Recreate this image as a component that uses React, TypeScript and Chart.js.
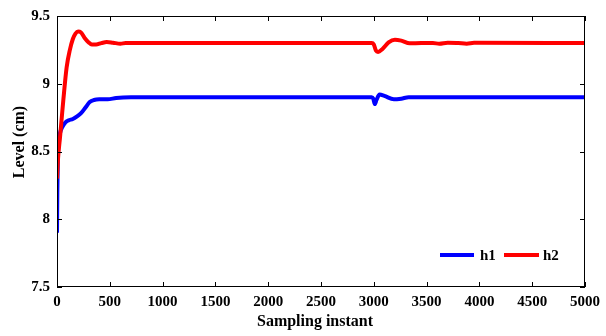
import React, { useEffect, useRef } from "react";
import { Chart, registerables } from "chart.js";

Chart.register(...registerables);

const h1T = [0, 3, 8, 15, 30, 50, 80, 110, 150, 190, 230, 270, 310, 350, 400, 480, 560, 700, 2980, 2995, 3010, 3025, 3055, 3100, 3190, 3260, 3330, 3500, 5000];
const h1V = [7.9, 8.2, 8.45, 8.57, 8.64, 8.68, 8.715, 8.73, 8.74, 8.76, 8.785, 8.825, 8.865, 8.88, 8.885, 8.885, 8.895, 8.9, 8.9, 8.89, 8.85, 8.88, 8.92, 8.91, 8.885, 8.89, 8.9, 8.9, 8.9];

const h2T = [0, 10, 28, 45, 60, 91, 122, 150, 175, 200, 225, 260, 300, 330, 370, 420, 470, 530, 600, 650, 2980, 3000, 3020, 3040, 3080, 3140, 3200, 3260, 3340, 3450, 3560, 3620, 3700, 3800, 3880, 3950, 5000];
const h2V = [8.3, 8.45, 8.6, 8.75, 8.88, 9.12, 9.25, 9.33, 9.37, 9.385, 9.38, 9.34, 9.305, 9.29, 9.29, 9.3, 9.308, 9.303, 9.296, 9.3, 9.3, 9.29, 9.245, 9.235, 9.255, 9.305, 9.325, 9.318, 9.298, 9.3, 9.3, 9.296, 9.303, 9.3, 9.296, 9.302, 9.3];

const seriesLabels = ["h1", "h2"];
const seriesColors = ["#0000FF", "#FF0000"];
const xTitle = "Sampling instant";
const yTitle = "Level (cm)";
const xMin = 0, xMax = 5000, xStep = 500;
const yMin = 7.5, yMax = 9.5, yStep = 0.5;

const FONT = "'Liberation Serif', 'Times New Roman', serif";

const matlabPlugin = {
  id: "matlabBox",
  afterDraw(chart: any) {
    const { ctx, chartArea } = chart;
    const { left, right, top, bottom } = chartArea;
    const xs = chart.scales.x;
    const ys = chart.scales.y;
    ctx.save();
    ctx.strokeStyle = "#000";
    ctx.lineWidth = 1;
    ctx.strokeRect(Math.round(left) + 0.5, Math.round(top) + 0.5, Math.round(right - left) - 1, Math.round(bottom - top) - 1);
    const tl = 5;
    ctx.beginPath();
    xs.ticks.forEach((t: any) => {
      const px = Math.round(xs.getPixelForValue(t.value)) + 0.5;
      ctx.moveTo(px, bottom);
      ctx.lineTo(px, bottom - tl);
      ctx.moveTo(px, top);
      ctx.lineTo(px, top + tl);
    });
    ys.ticks.forEach((t: any) => {
      const py = Math.round(ys.getPixelForValue(t.value)) + 0.5;
      ctx.moveTo(left, py);
      ctx.lineTo(left + tl, py);
      ctx.moveTo(right, py);
      ctx.lineTo(right - tl, py);
    });
    ctx.stroke();

    // titles
    ctx.fillStyle = "#000";
    ctx.font = "bold 16px " + FONT;
    ctx.textAlign = "center";
    ctx.textBaseline = "middle";
    ctx.fillText(xTitle, 315, 322);
    ctx.save();
    ctx.translate(20, 142);
    ctx.rotate(-Math.PI / 2);
    ctx.fillText(yTitle, 0, 0);
    ctx.restore();

    // legend
    const ly = 255;
    const items = [
      { x0: 440, x1: 474, tx: 480 },
      { x0: 504, x1: 539, tx: 543 },
    ];
    ctx.font = "bold 15px " + FONT;
    ctx.textAlign = "left";
    chart.data.datasets.forEach((ds: any, i: number) => {
      const it = items[i];
      ctx.strokeStyle = ds.borderColor;
      ctx.lineWidth = 4;
      ctx.beginPath();
      ctx.moveTo(it.x0, ly);
      ctx.lineTo(it.x1, ly);
      ctx.stroke();
      ctx.fillStyle = "#000";
      ctx.fillText(ds.label, it.tx, ly + 1);
    });
    ctx.restore();
  },
};

export default function App() {
  const ref = useRef<HTMLCanvasElement | null>(null);
  useEffect(() => {
    document.body.style.margin = "0";
    const canvas = ref.current!;
    const mk = (T: number[], V: number[]) => T.map((t, i) => ({ x: t, y: V[i] }));
    const chart = new Chart(canvas, {
      type: "line",
      data: {
        datasets: [
          {
            label: seriesLabels[0],
            data: mk(h1T, h1V),
            borderColor: seriesColors[0],
            backgroundColor: seriesColors[0],
            borderWidth: 4,
            pointRadius: 0,
            cubicInterpolationMode: "monotone",
            borderJoinStyle: "round",
            order: 2,
          },
          {
            label: seriesLabels[1],
            data: mk(h2T, h2V),
            borderColor: seriesColors[1],
            backgroundColor: seriesColors[1],
            borderWidth: 4,
            pointRadius: 0,
            cubicInterpolationMode: "monotone",
            borderJoinStyle: "round",
            order: 1,
          },
        ],
      },
      options: {
        animation: false,
        responsive: false,
        maintainAspectRatio: false,
        layout: { padding: { left: 0, right: 17, top: 16, bottom: 0 } },
        plugins: { legend: { display: false }, tooltip: { enabled: false } },
        scales: {
          x: {
            type: "linear",
            min: xMin,
            max: xMax,
            grid: { display: false, drawTicks: false },
            border: { display: false },
            ticks: {
              stepSize: xStep,
              padding: 6,
              maxRotation: 0,
              autoSkip: false,
              color: "#000",
              font: { family: FONT, size: 15, weight: "bold" },
              callback: (v: any) => String(v),
            },
            afterFit: (s: any) => {
              s.height = 49;
            },
          },
          y: {
            type: "linear",
            min: yMin,
            max: yMax,
            grid: { display: false, drawTicks: false },
            border: { display: false },
            ticks: {
              stepSize: yStep,
              padding: 7,
              autoSkip: false,
              color: "#000",
              font: { family: FONT, size: 15, weight: "bold" },
              callback: (v: any) => String(v),
            },
            afterFit: (s: any) => {
              s.width = 57;
            },
          },
        },
      },
      plugins: [matlabPlugin],
    });
    return () => chart.destroy();
  }, []);
  return (
    <div style={{ position: "fixed", left: 0, top: 0, width: 606, height: 336, background: "#fff" }}>
      <canvas ref={ref} width={606} height={336} />
    </div>
  );
}
